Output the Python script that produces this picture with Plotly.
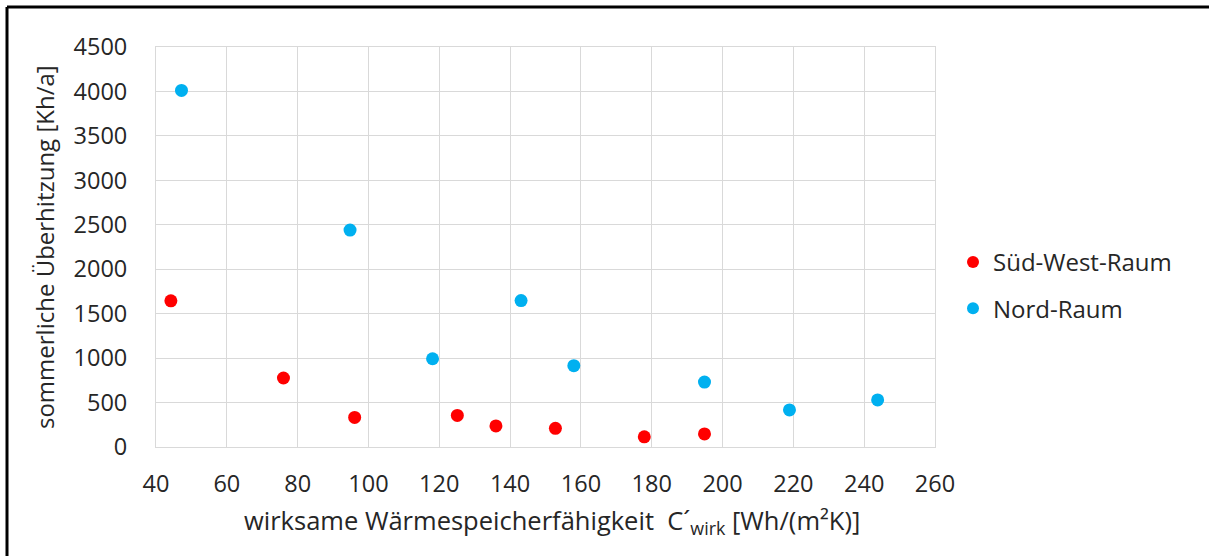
import plotly.graph_objects as go

# Data
sw_x = [44.2, 76.0, 96.1, 125.1, 136.0, 152.8, 177.9, 194.9]
sw_y = [1645, 776, 333, 355, 237, 210, 115, 147]
nord_x = [47.2, 94.8, 118.1, 143.1, 158.0, 194.9, 218.9, 243.8]
nord_y = [4012, 2440, 993, 1647, 915, 730, 417, 530]

series_names = ["Süd-West-Raum", "Nord-Raum"]
x_ticks = [40, 60, 80, 100, 120, 140, 160, 180, 200, 220, 240, 260]
y_ticks = [0, 500, 1000, 1500, 2000, 2500, 3000, 3500, 4000, 4500]

FONT = "Open Sans"
GRID = "#d9d9d9"
TXT = "#262626"

fig = go.Figure()
fig.add_trace(go.Scatter(x=sw_x, y=sw_y, mode="markers", name=series_names[0],
                         legendgroup="sw",
                         marker=dict(color="#ff0000", size=13)))
fig.add_trace(go.Scatter(x=nord_x, y=nord_y, mode="markers", name=series_names[1],
                         legendgroup="nord",
                         marker=dict(color="#00b0f0", size=13)))

W, H = 1209, 556
L, R, T, B = 156, 935, 47, 447
pw, ph = R - L, B - T

def px(x):
    return (x - L) / pw

def py(y):
    return (B - y) / ph

fig.update_layout(
    width=W, height=H,
    margin=dict(l=L, r=W - R, t=T, b=H - B),
    paper_bgcolor="white", plot_bgcolor="white",
    font=dict(family=FONT, color=TXT),
    showlegend=True,
    legend=dict(x=px(953), y=py(240), xanchor="left", yanchor="top",
                font=dict(size=24, family=FONT, color=TXT),
                itemsizing="constant", traceorder="grouped", tracegroupgap=12,
                bgcolor="rgba(0,0,0,0)"),
    xaxis=dict(range=[40, 260], tickvals=x_ticks, ticktext=[str(v) for v in x_ticks],
               showgrid=True, gridcolor=GRID, gridwidth=1,
               showline=True, linecolor=GRID, linewidth=1, mirror=True,
               zeroline=False, ticks="", ticklen=0, ticklabelstandoff=16,
               tickfont=dict(size=23.5, family=FONT, color=TXT)),
    yaxis=dict(range=[0, 4500], tickvals=y_ticks, ticktext=[str(v) for v in y_ticks],
               showgrid=True, gridcolor=GRID, gridwidth=1,
               showline=True, linecolor=GRID, linewidth=1, mirror=True,
               zeroline=False, ticks="", ticklen=0, ticklabelstandoff=23,
               tickfont=dict(size=23.5, family=FONT, color=TXT)),
    annotations=[
        dict(text="wirksame Wärmespeicherfähigkeit  C´<sub>wirk</sub> [Wh/(m²K)]",
             xref="paper", yref="paper", x=px(552), y=py(521),
             xanchor="center", yanchor="middle", showarrow=False,
             font=dict(size=25.5, family=FONT, color=TXT)),
        dict(text="sommerliche Überhitzung [Kh/a]",
             xref="paper", yref="paper", x=px(44), y=py(247),
             xanchor="center", yanchor="middle", showarrow=False, textangle=-90,
             font=dict(size=24, family=FONT, color=TXT)),
    ],
    shapes=[
        dict(type="line", xref="paper", yref="paper",
             x0=px(7), x1=px(W), y0=py(7), y1=py(7),
             line=dict(color="black", width=3)),
        dict(type="line", xref="paper", yref="paper",
             x0=px(7), x1=px(7), y0=py(7), y1=py(H),
             line=dict(color="black", width=3)),
    ],
)

fig.write_html("out.html", config={"displayModeBar": False},
               post_script="document.body.style.margin='0';document.body.style.overflow='hidden';")
